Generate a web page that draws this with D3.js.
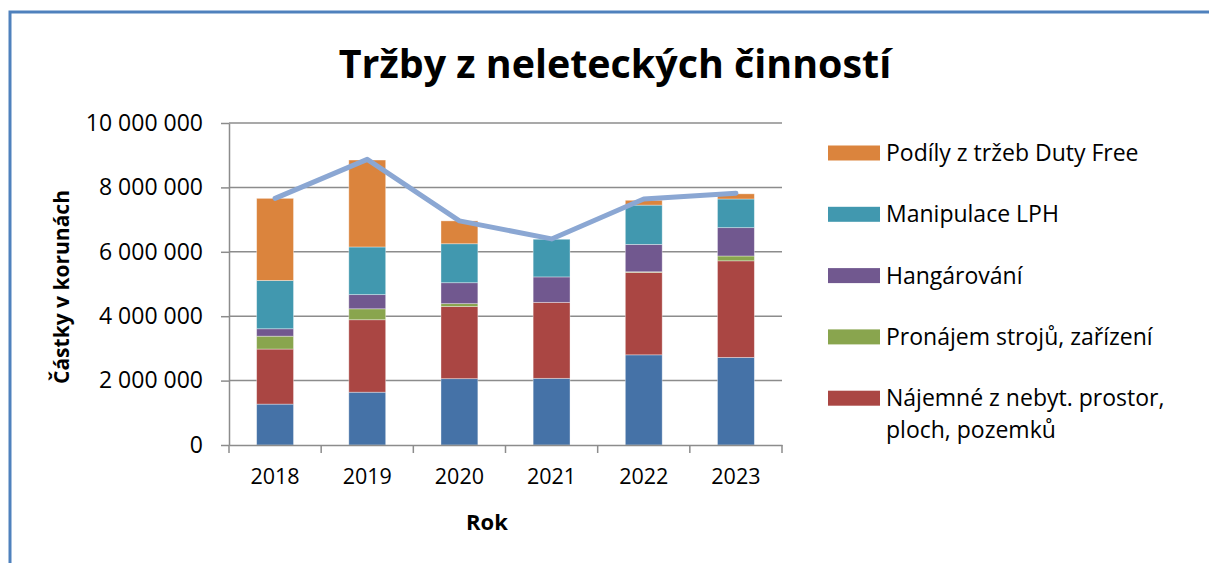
<!DOCTYPE html>
<html>
<head>
<meta charset="utf-8">
<script src="https://cdn.jsdelivr.net/npm/d3@7"></script>
<style>
  body { margin: 0; background: #fff; }
  svg text { font-family: "Open Sans", sans-serif; fill: #000; }
</style>
</head>
<body>
<svg id="chart" width="1209" height="563"></svg>
<script>
// --- data (CZK) ---
var years = ['2018', '2019', '2020', '2021', '2022', '2023'];

var ostatni    = [1270000, 1640000, 2060000, 2070000, 2800000, 2720000];
var najemne    = [1710000, 2250000, 2240000, 2360000, 2560000, 3000000];
var pronajem   = [ 400000,  340000,   90000,       0,   20000,  150000];
var hangarovani= [ 230000,  440000,  650000,  790000,  850000,  880000];
var manipulace = [1500000, 1480000, 1210000, 1170000, 1220000,  890000];
var dutyFree   = [2550000, 2700000,  710000,       0,  150000,  160000];
var celkem     = [7660000, 8870000, 6960000, 6400000, 7640000, 7820000];

var yTicks = [0, 2000000, 4000000, 6000000, 8000000, 10000000];

// stack order bottom -> top
var series = [
  { key: 'ostatni',     name: 'Ostatní',                                values: ostatni,     color: '#4572A7', legend: false },
  { key: 'najemne',     name: ['Nájemné z nebyt. prostor,', 'ploch, pozemků'], values: najemne, color: '#AA4643', legend: true },
  { key: 'pronajem',    name: 'Pronájem strojů, zařízení',              values: pronajem,    color: '#89A54E', legend: true },
  { key: 'hangarovani', name: 'Hangárování',                            values: hangarovani, color: '#71588F', legend: true },
  { key: 'manipulace',  name: 'Manipulace LPH',                         values: manipulace,  color: '#4198AF', legend: true },
  { key: 'dutyFree',    name: 'Podíly z tržeb Duty Free',               values: dutyFree,    color: '#DB843D', legend: true }
];

var svg = d3.select('#chart');

// frame (only left and top edges are visible in the screenshot)
svg.append('path')
  .attr('d', 'M10,563V12H1209')
  .attr('fill', 'none')
  .attr('stroke', '#4F81BD')
  .attr('stroke-width', 3);

var plot = { left: 229, right: 782, top: 123, bottom: 445 };

var x = d3.scaleBand().domain(years).range([plot.left, plot.right]);
var y = d3.scaleLinear().domain([0, 10000000]).range([plot.bottom, plot.top]);

// gridlines
svg.append('g')
  .selectAll('line')
  .data(yTicks.slice(1))
  .enter().append('line')
  .attr('x1', plot.left).attr('x2', plot.right)
  .attr('y1', function(d) { return y(d); })
  .attr('y2', function(d) { return y(d); })
  .attr('stroke', '#8c8c8c')
  .attr('stroke-width', 1.5);

// stacked bars
var rows = years.map(function(yr, i) {
  var r = { year: yr };
  series.forEach(function(s) { r[s.key] = s.values[i]; });
  return r;
});
var stack = d3.stack().keys(series.map(function(s) { return s.key; }));
var layers = stack(rows);
var barW = x.bandwidth() * 0.4;

svg.append('g')
  .selectAll('g')
  .data(layers)
  .enter().append('g')
  .attr('fill', function(d, i) { return series[i].color; })
  .selectAll('rect')
  .data(function(d) { return d; })
  .enter().append('rect')
  .attr('x', function(d) { return x(d.data.year) + (x.bandwidth() - barW) / 2; })
  .attr('y', function(d) { return y(d[1]); })
  .attr('width', barW)
  .attr('height', function(d) { return y(d[0]) - y(d[1]); })
  .attr('stroke', 'rgba(255,255,255,0.45)')
  .attr('stroke-width', 0.8);

// total line
var line = d3.line()
  .x(function(d, i) { return x(years[i]) + x.bandwidth() / 2; })
  .y(function(d) { return y(d); });

svg.append('path')
  .datum(celkem)
  .attr('d', line)
  .attr('fill', 'none')
  .attr('stroke', '#8BA7D3')
  .attr('stroke-width', 5)
  .attr('stroke-linejoin', 'round')
  .attr('stroke-linecap', 'round');

// y axis
var fmt = function(d) { return d3.format(',')(d).replace(/,/g, ' '); };
var yAxis = svg.append('g')
  .attr('transform', 'translate(' + plot.left + ',0)')
  .call(d3.axisLeft(y).tickValues(yTicks).tickFormat(fmt).tickSize(8).tickSizeOuter(0).tickPadding(18));
yAxis.selectAll('line, path').attr('stroke', '#8c8c8c').attr('stroke-width', 1.5);
yAxis.selectAll('text').style('font-size', '23px').style('font-family', '"Open Sans", sans-serif').attr('fill', '#000');

// x axis
var xAxis = svg.append('g')
  .attr('transform', 'translate(0,' + plot.bottom + ')')
  .call(d3.axisBottom(x).tickSize(0).tickPadding(24));
xAxis.select('.domain').attr('stroke', '#8c8c8c').attr('stroke-width', 1.5);
xAxis.selectAll('text').style('font-size', '21.5px').style('font-family', '"Open Sans", sans-serif').attr('fill', '#000');

// category boundary ticks
var bounds = years.map(function(yr) { return x(yr); }).concat([plot.right]);
xAxis.append('g')
  .selectAll('line')
  .data(bounds)
  .enter().append('line')
  .attr('x1', function(d) { return d; }).attr('x2', function(d) { return d; })
  .attr('y1', 0).attr('y2', 8)
  .attr('stroke', '#8c8c8c')
  .attr('stroke-width', 1.5);

// titles
svg.append('text')
  .attr('x', 615).attr('y', 78)
  .attr('text-anchor', 'middle')
  .style('font-size', '39.4px').style('font-weight', 'bold')
  .text('Tržby z neleteckých činností');

svg.append('text')
  .attr('transform', 'translate(69,287) rotate(-90)')
  .attr('text-anchor', 'middle')
  .style('font-size', '21px').style('font-weight', 'bold')
  .text('Částky v korunách');

svg.append('text')
  .attr('x', 487).attr('y', 530)
  .attr('text-anchor', 'middle')
  .style('font-size', '22px').style('font-weight', 'bold')
  .text('Rok');

// legend (top entry = top of stack)
var legendItems = series.filter(function(s) { return s.legend; }).reverse();
var leg = svg.append('g').attr('transform', 'translate(828,153)');
var item = leg.selectAll('g')
  .data(legendItems)
  .enter().append('g')
  .attr('transform', function(d, i) { return 'translate(0,' + (i * 61.3) + ')'; });

item.append('rect')
  .attr('x', 0).attr('y', -7.5)
  .attr('width', 52).attr('height', 15)
  .attr('fill', function(d) { return d.color; });

item.append('text')
  .attr('x', 58).attr('y', 0)
  .style('font-size', '23px')
  .selectAll('tspan')
  .data(function(d) { return Array.isArray(d.name) ? d.name : [d.name]; })
  .enter().append('tspan')
  .attr('x', 58)
  .attr('dy', function(d, i) { return i === 0 ? '0.35em' : '32px'; })
  .text(function(d) { return d; });
</script>
</body>
</html>
